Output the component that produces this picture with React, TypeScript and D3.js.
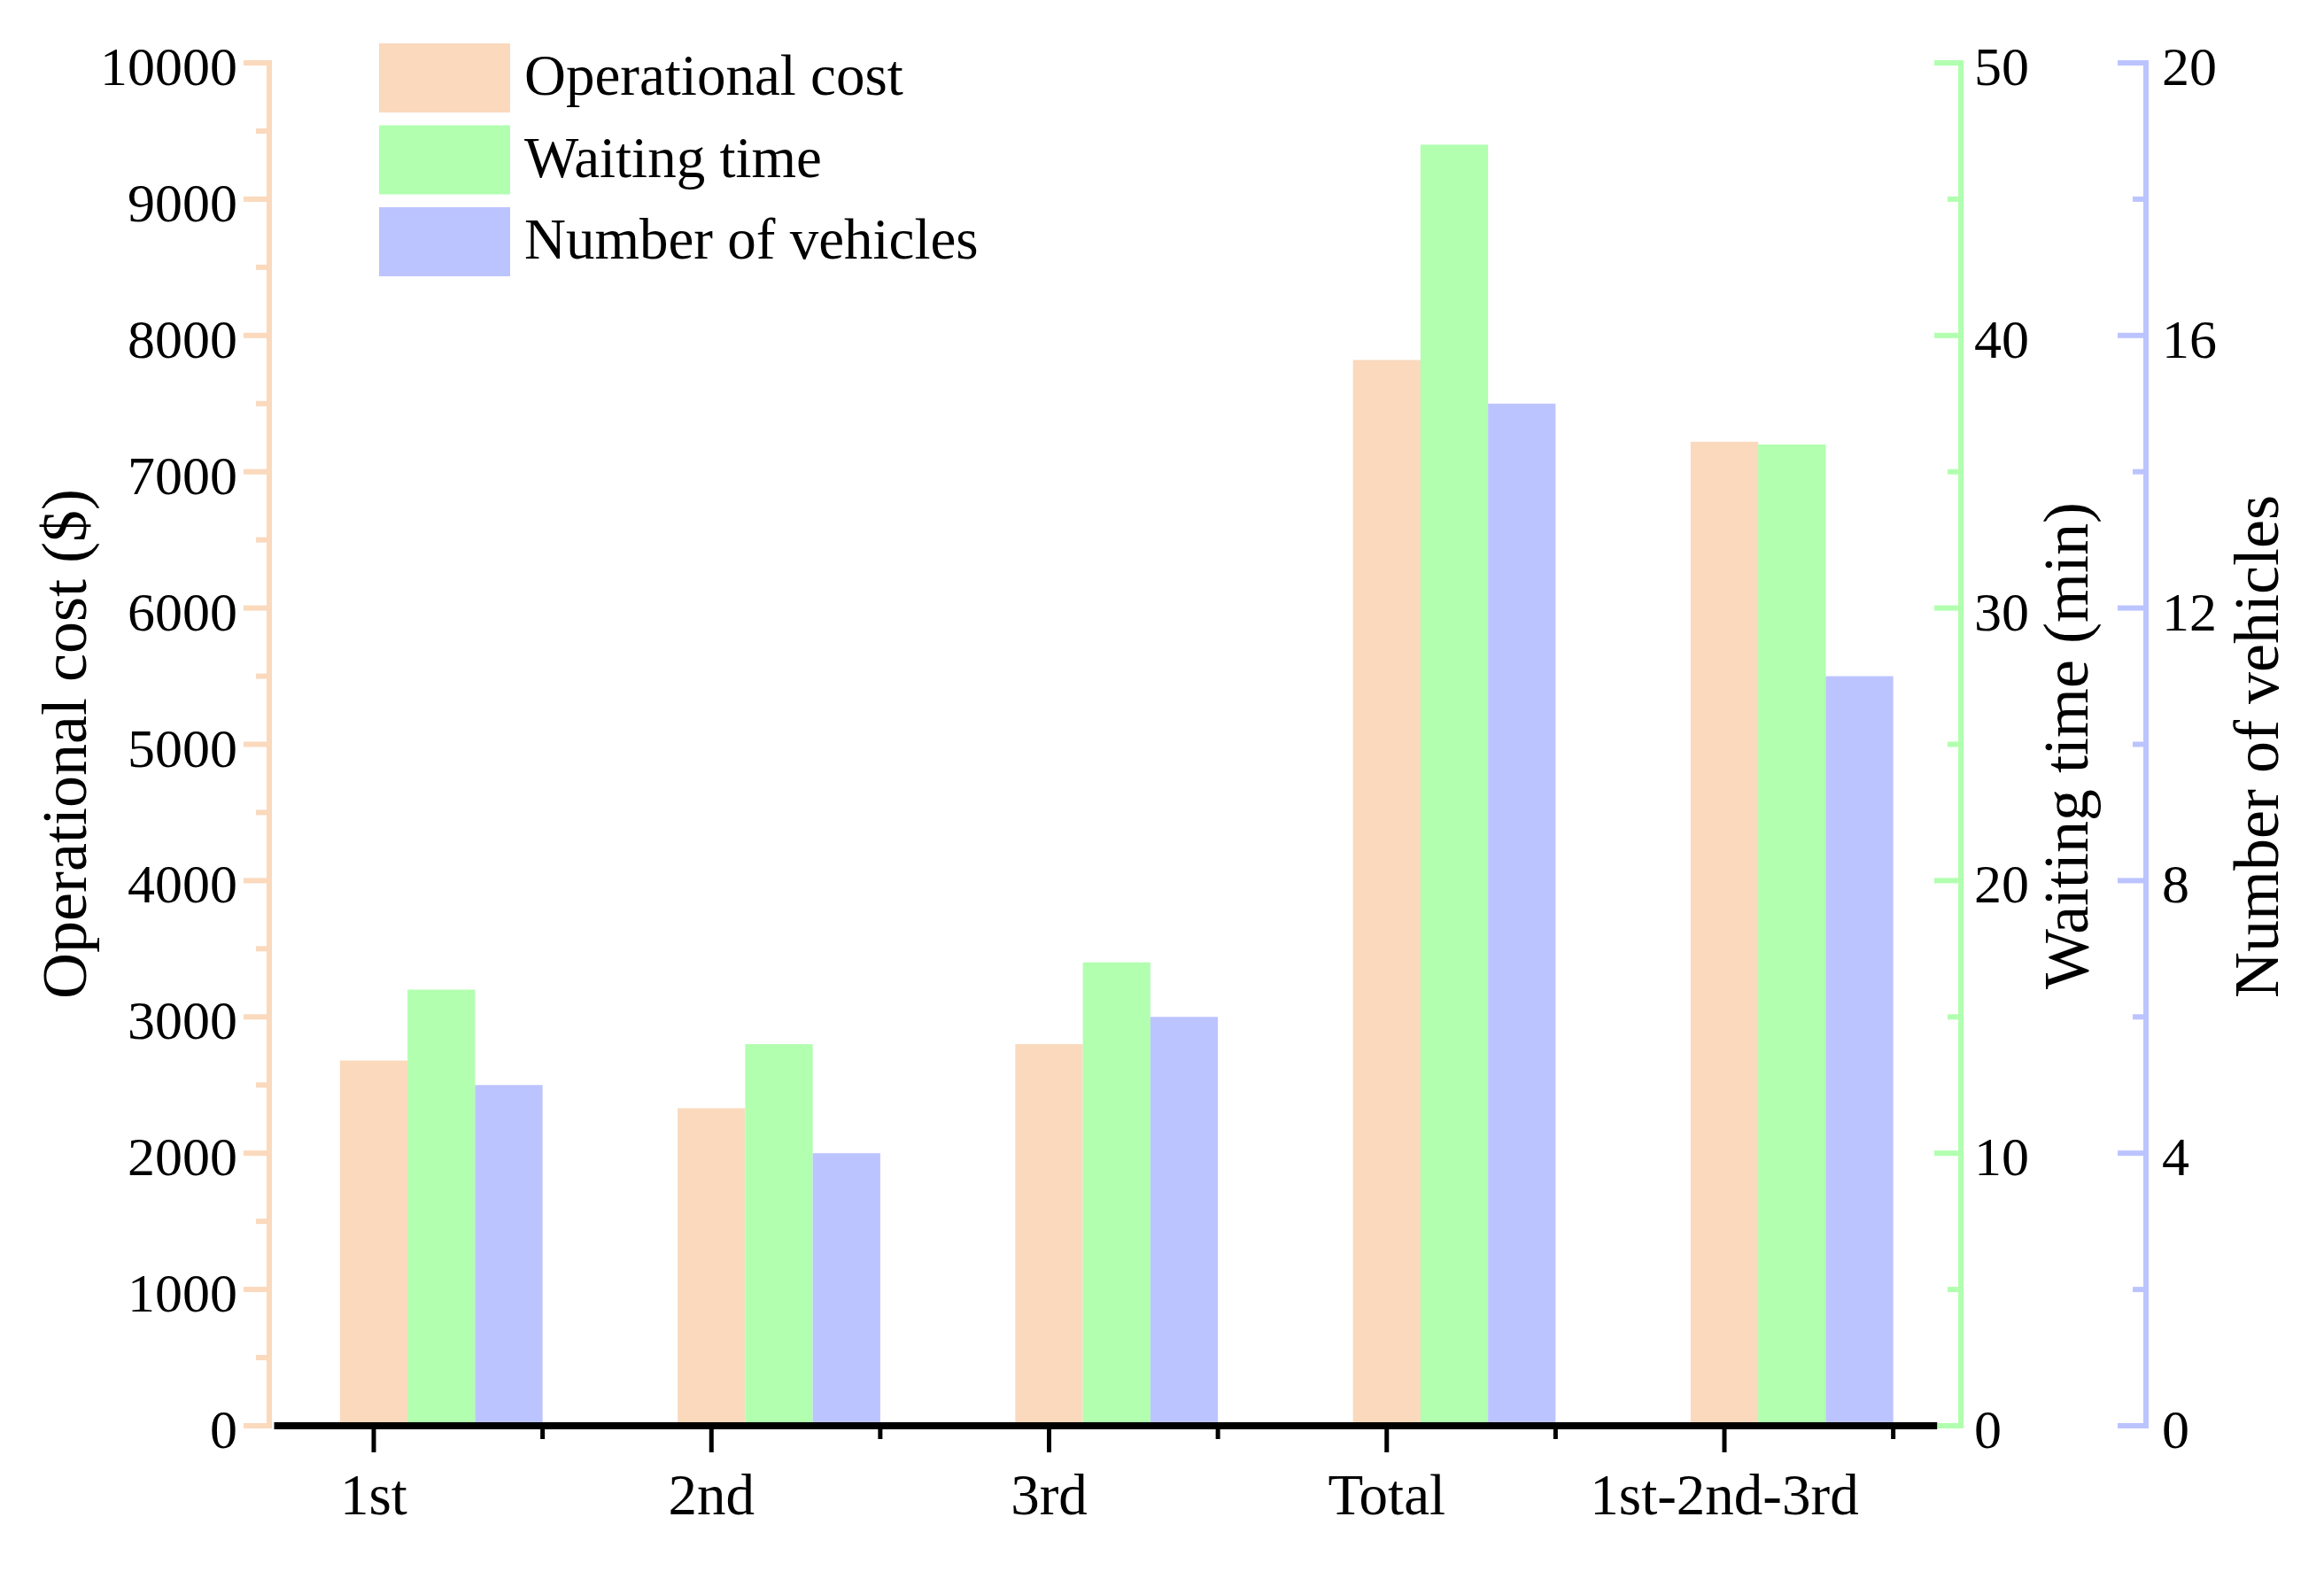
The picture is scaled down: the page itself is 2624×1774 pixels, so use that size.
import React, { useEffect, useRef } from 'react';
import * as d3 from 'd3';

const categories = ['1st', '2nd', '3rd', 'Total', '1st-2nd-3rd'];
const operationalCost = [2680, 2330, 2800, 7820, 7220];
const waitingTime = [16, 14, 17, 47, 36];
const vehicleCount = [5, 4, 6, 15, 11];

const costTicks = [0, 1000, 2000, 3000, 4000, 5000, 6000, 7000, 8000, 9000, 10000];
const waitTicks = [0, 10, 20, 30, 40, 50];
const vehicleTicks = [0, 4, 8, 12, 16, 20];

const seriesNames = ['Operational cost', 'Waiting time', 'Number of vehicles'];
const seriesColors = ['#FAD9BD', '#B1FFAF', '#BCC4FF'];

const FONT = '"Liberation Serif", "Times New Roman", serif';

const App: React.FC = () => {
    const ref = useRef<SVGSVGElement>(null);

    useEffect(() => {
        if (!ref.current) return;
        const svg = d3.select(ref.current);
        svg.selectAll('*').remove();

        const top = 71;
        const bottom = 1610;

        const x = d3.scaleLinear().domain([0, 4]).range([422, 1947]);
        const yCost = d3.scaleLinear().domain([0, 10000]).range([bottom, top]);
        const yWait = d3.scaleLinear().domain([0, 50]).range([bottom, top]);
        const yVeh = d3.scaleLinear().domain([0, 20]).range([bottom, top]);

        const series = [
            { values: operationalCost, scale: yCost, color: seriesColors[0], offset: -0.1 },
            { values: waitingTime, scale: yWait, color: seriesColors[1], offset: 0.1 },
            { values: vehicleCount, scale: yVeh, color: seriesColors[2], offset: 0.3 },
        ];
        const barW = 0.2;

        // bars
        series.forEach(s => {
            svg.append('g').selectAll('rect')
                .data(s.values)
                .enter().append('rect')
                .attr('x', (_d, i) => x(i + s.offset))
                .attr('width', (_d, i) => x(i + s.offset + barW) - x(i + s.offset))
                .attr('y', d => s.scale(d))
                .attr('height', d => bottom - s.scale(d))
                .attr('fill', s.color);
        });

        // vertical axis helper: ticks point left, labels on left or right
        const vAxis = (
            xPos: number,
            scale: d3.ScaleLinear<number, number>,
            major: number[],
            color: string,
            majorLen: number,
            labelX: number,
            anchor: string
        ) => {
            const g = svg.append('g');
            const minor = major.slice(1).map((v, i) => (v + major[i]) / 2);
            g.append('line')
                .attr('x1', xPos).attr('x2', xPos)
                .attr('y1', scale(major[major.length - 1]) - 3).attr('y2', scale(major[0]) + 3)
                .attr('stroke', color).attr('stroke-width', 6);
            g.selectAll('.major').data(major).enter().append('line')
                .attr('x1', xPos - majorLen).attr('x2', xPos)
                .attr('y1', d => scale(d)).attr('y2', d => scale(d))
                .attr('stroke', color).attr('stroke-width', 6);
            g.selectAll('.minor').data(minor).enter().append('line')
                .attr('x1', xPos - 15).attr('x2', xPos)
                .attr('y1', d => scale(d)).attr('y2', d => scale(d))
                .attr('stroke', color).attr('stroke-width', 6);
            g.selectAll('text').data(major).enter().append('text')
                .attr('x', labelX)
                .attr('y', d => scale(d) + 25)
                .attr('text-anchor', anchor)
                .attr('font-family', FONT)
                .attr('font-size', 62)
                .attr('fill', '#000')
                .text(d => String(d));
        };

        vAxis(304, yCost, costTicks, seriesColors[0], 29, 268, 'end');
        vAxis(2214, yWait, waitTicks, seriesColors[1], 30, 2229, 'start');
        vAxis(2423, yVeh, vehicleTicks, seriesColors[2], 32, 2441, 'start');

        // x axis
        const xg = svg.append('g');
        xg.append('line')
            .attr('x1', x(-0.295)).attr('x2', x(4.63))
            .attr('y1', bottom).attr('y2', bottom)
            .attr('stroke', '#000').attr('stroke-width', 8);
        xg.selectAll('.major').data(categories).enter().append('line')
            .attr('x1', (_d, i) => x(i)).attr('x2', (_d, i) => x(i))
            .attr('y1', bottom).attr('y2', bottom + 30)
            .attr('stroke', '#000').attr('stroke-width', 5);
        xg.selectAll('.minor').data(categories).enter().append('line')
            .attr('x1', (_d, i) => x(i + 0.5)).attr('x2', (_d, i) => x(i + 0.5))
            .attr('y1', bottom).attr('y2', bottom + 15)
            .attr('stroke', '#000').attr('stroke-width', 5);
        xg.selectAll('text').data(categories).enter().append('text')
            .attr('x', (_d, i) => x(i))
            .attr('y', 1710)
            .attr('text-anchor', 'middle')
            .attr('font-family', FONT)
            .attr('font-size', 65)
            .attr('fill', '#000')
            .text(d => d);

        // axis titles
        const titles = [
            { text: 'Operational cost ($)', x: 97, y: 840 },
            { text: 'Waiting time (min)', x: 2357, y: 842 },
            { text: 'Number of vehicles', x: 2572, y: 843 },
        ];
        svg.append('g').selectAll('text').data(titles).enter().append('text')
            .attr('transform', d => `translate(${d.x},${d.y}) rotate(-90)`)
            .attr('text-anchor', 'middle')
            .attr('font-family', FONT)
            .attr('font-size', 72)
            .attr('fill', '#000')
            .text(d => d.text);

        // legend
        const lg = svg.append('g');
        seriesNames.forEach((name, i) => {
            const y0 = 49 + i * 92.5;
            lg.append('rect')
                .attr('x', 428).attr('y', y0)
                .attr('width', 148).attr('height', 78)
                .attr('fill', seriesColors[i]);
            lg.append('text')
                .attr('x', 592).attr('y', y0 + 58)
                .attr('font-family', FONT)
                .attr('font-size', 65)
                .attr('fill', '#000')
                .text(name);
        });
    }, []);

    return (
        <svg
            ref={ref}
            width={2624}
            height={1774}
            style={{ position: 'absolute', left: 0, top: 0, background: '#fff' }}
        />
    );
};

export default App;
